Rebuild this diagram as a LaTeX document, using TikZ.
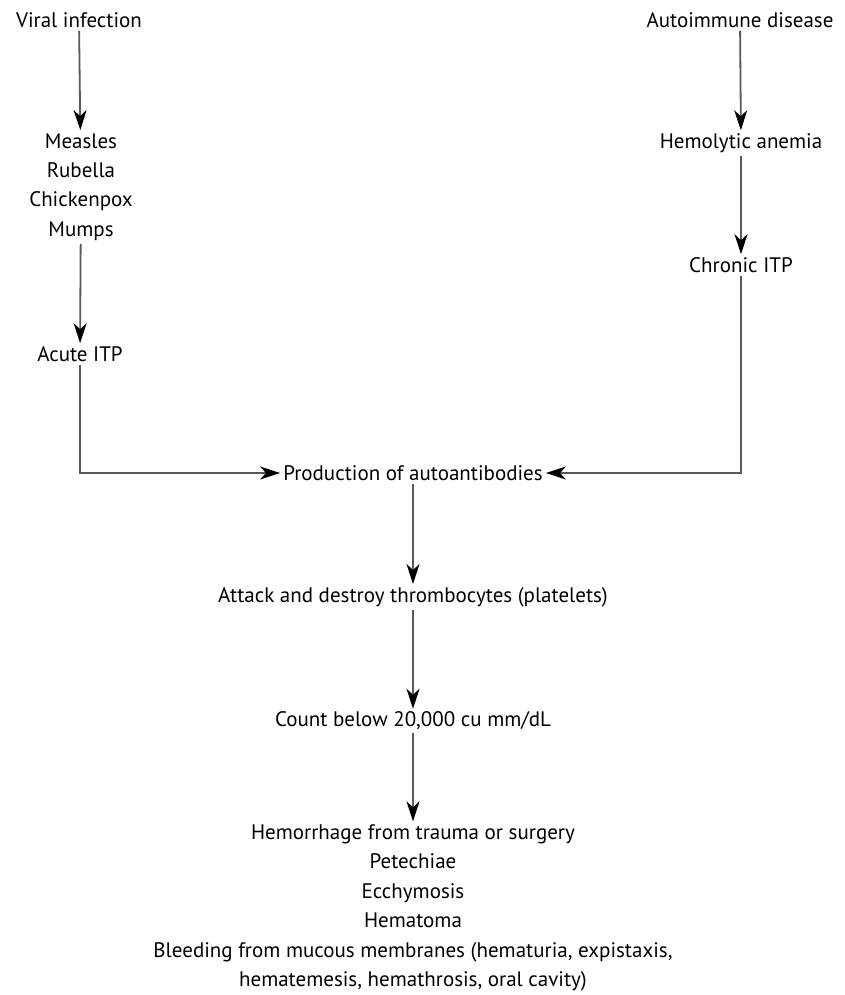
\documentclass[tikz,border=0pt]{standalone}
\usepackage{fontspec}
\setmainfont{PT Sans}
\usetikzlibrary{arrows.meta}
\tikzset{
  lbl/.style={font=\fontsize{21}{29.5}\selectfont, align=center, inner sep=3pt},
  flow/.style={draw=black!65, line width=1.8pt, -{Stealth[length=20pt,width=13pt,inset=6pt,black]}}
}
\begin{document}
\begin{tikzpicture}[x=1pt,y=-1pt]
\useasboundingbox (0,0) rectangle (844,995);
\node[lbl] (viral) at (79,20) {Viral infection};
\node[lbl] (measles) at (81,187) {Measles\\Rubella\\Chickenpox\\Mumps};
\node[lbl] (acute) at (80,354) {Acute ITP};
\node[lbl] (autoimm) at (740,20) {Autoimmune disease};
\node[lbl] (hemol) at (741,143) {Hemolytic anemia};
\node[lbl] (chronic) at (741,265) {Chronic ITP};
\node[lbl] (prod) at (413,473) {Production of autoantibodies};
\node[lbl] (attack) at (413,597) {Attack and destroy thrombocytes (platelets)};
\node[lbl] (count) at (413,721) {Count below 20,000 cu mm/dL};
\node[lbl] (bleed) at (413,908) {Hemorrhage from trauma or surgery\\Petechiae\\Ecchymosis\\Hematoma\\Bleeding from mucous membranes (hematuria, expistaxis,\\hematemesis, hemathrosis, oral cavity)};
\draw[flow] (viral) -- (measles);
\draw[flow] (measles) -- (acute);
\draw[flow] (autoimm) -- (hemol);
\draw[flow] (hemol) -- (chronic);
\draw[flow] (acute.south) |- (prod.west);
\draw[flow] (chronic.south) |- (prod.east);
\draw[flow] (prod) -- (attack);
\draw[flow] (attack) -- (count);
\draw[flow] (count) -- (bleed);
\end{tikzpicture}
\end{document}
